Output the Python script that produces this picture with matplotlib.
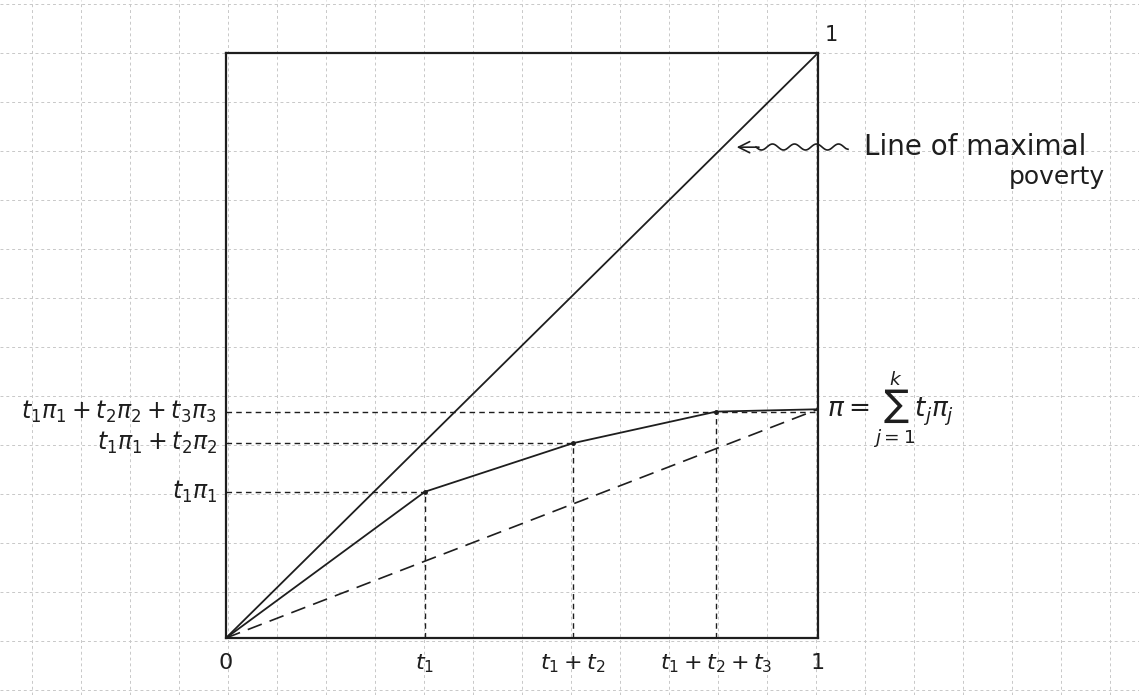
import numpy as np
import matplotlib
matplotlib.use('Agg')
import matplotlib.pyplot as plt

# cumulative population share vs cumulative poverty (concave curve)
x_cum = [0, 0.336, 0.586, 0.828, 1.0]
y_cum = [0, 0.250, 0.333, 0.387, 0.391]
x_labels = ['0', r'$t_1$', r'$t_1+t_2$', r'$t_1+t_2+t_3$', '1']
y_labels = [r'$t_1\pi_1$', r'$t_1\pi_1+t_2\pi_2$', r'$t_1\pi_1+t_2\pi_2+t_3\pi_3$']
pi_label = r'$\pi = \sum_{j=1}^{k} t_j\pi_j$'

ink = '#1e1e1e'
plt.rcParams['mathtext.fontset'] = 'dejavusans'

fig = plt.figure(figsize=(11.39, 6.95), dpi=100)

# graph paper background
bg = fig.add_axes([0, 0, 1, 1], zorder=-1)
bg.set_xlim(0, 1139)
bg.set_ylim(695, 0)
bg.set_xticks(np.arange(32, 1139, 49))
bg.set_yticks(np.arange(4, 695, 49))
bg.tick_params(length=0, labelbottom=False, labelleft=False)
for s in bg.spines.values():
    s.set_visible(False)
bg.grid(True, color='#c8c8c8', linestyle=(0, (3, 3)), linewidth=0.7)

ax = fig.add_axes([226/1139, 57/695, 592/1139, 585/695])
ax.set_facecolor('none')
ax.set_xlim(0, 1)
ax.set_ylim(0, 1)
ax.set_xticks([])
ax.set_yticks([])
for s in ax.spines.values():
    s.set_color(ink)
    s.set_linewidth(1.6)

# line of maximal poverty
ax.plot([0, 1], [0, 1], color=ink, lw=1.3)
# concave curve
ax.plot(x_cum, y_cum, color=ink, lw=1.3, marker='o', ms=2.5)
# straight chord to pi
ax.plot([0, 1], [0, y_cum[-1]], color=ink, lw=1.2, dashes=(9, 5))

# guide lines
for i in range(1, 4):
    xe = 1.0 if i == 3 else x_cum[i]
    ax.plot([0, xe], [y_cum[i], y_cum[i]], color=ink, lw=1.0, dashes=(4, 3))
    ax.plot([x_cum[i], x_cum[i]], [0, y_cum[i]], color=ink, lw=1.0, dashes=(4, 3))
    ax.text(-0.015, y_cum[i], y_labels[i-1], ha='right', va='center', fontsize=17, color=ink)

for xv, lab in zip(x_cum, x_labels):
    ax.text(xv, -0.025, lab, ha='center', va='top', fontsize=16, color=ink)

ax.text(1.012, 1.03, '1', ha='left', va='center', fontsize=15, color=ink)
ax.text(1.015, y_cum[-1], pi_label, ha='left', va='center', fontsize=19, color=ink)

# wavy arrow pointing at the diagonal
ya = 0.839
wave, = ax.plot([0.895, 1.05], [ya, ya], color=ink, lw=1.2, clip_on=False)
wave.set_sketch_params(scale=3, length=22, randomness=1)
ax.annotate('', xy=(0.858, ya), xytext=(0.905, ya),
            arrowprops=dict(arrowstyle='->', color=ink, lw=1.2, mutation_scale=20),
            annotation_clip=False)
ax.text(1.077, ya, 'Line of maximal', ha='left', va='center', fontsize=20, color=ink)
ax.text(1.322, 0.788, 'poverty', ha='left', va='center', fontsize=18, color=ink)

fig.savefig('out.png', dpi=100)
